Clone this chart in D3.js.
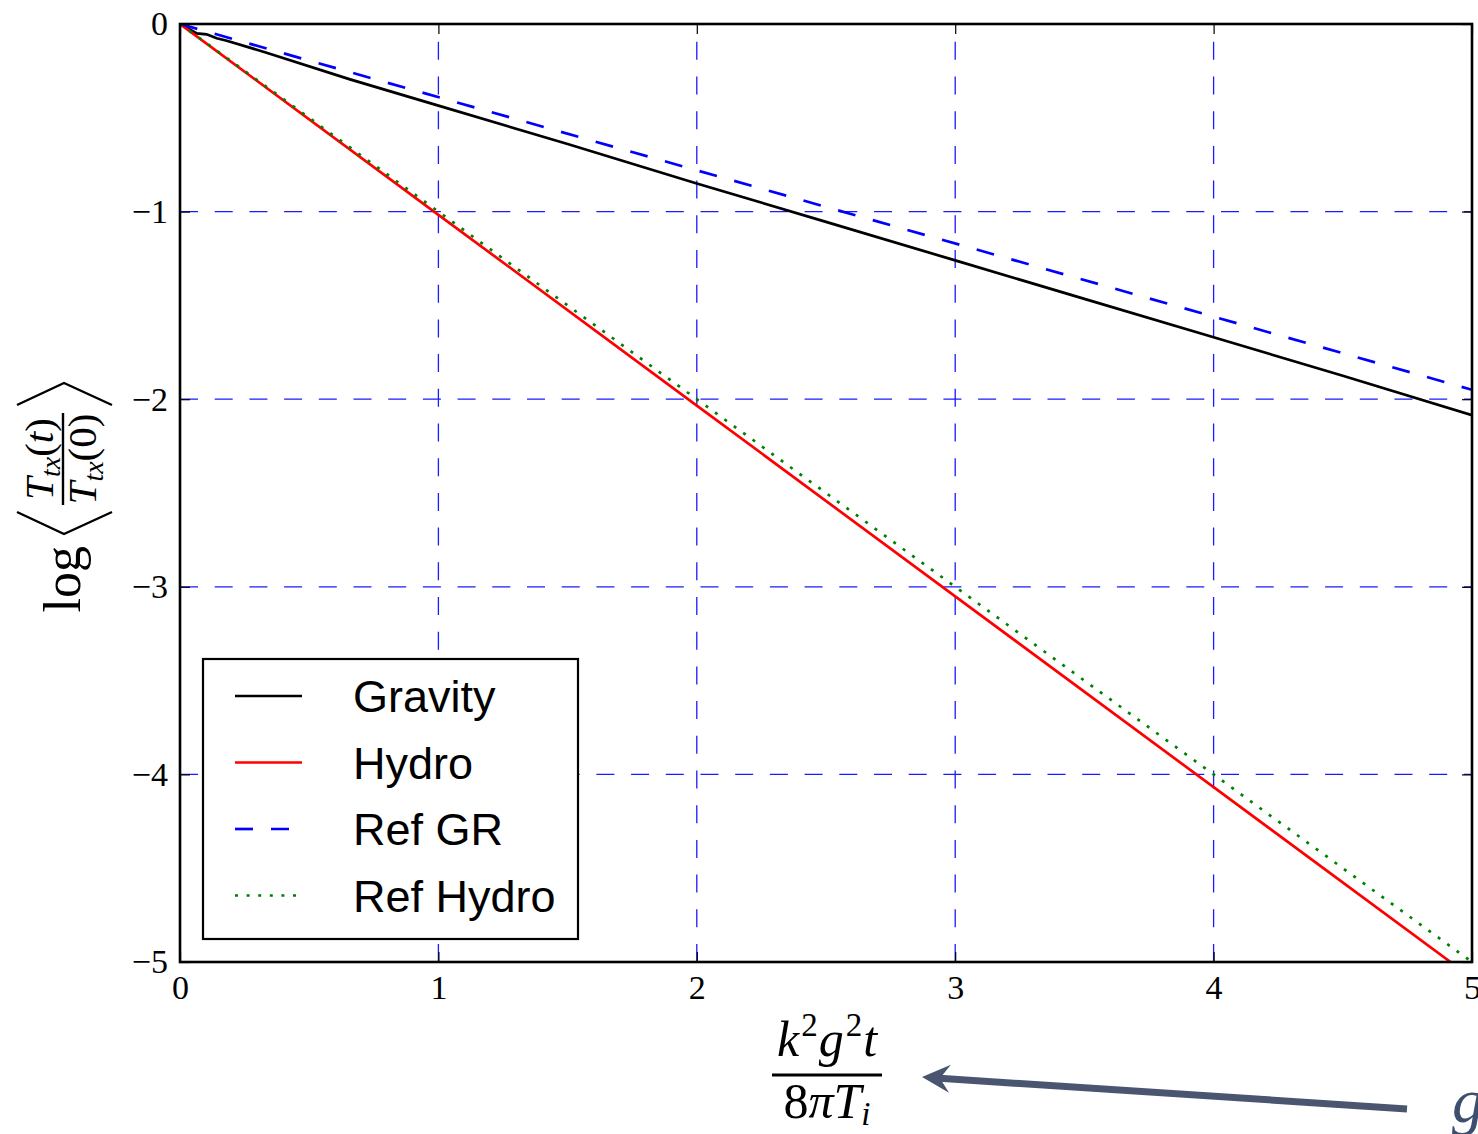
<!DOCTYPE html>
<html>
<head>
<meta charset="utf-8">
<script src="https://cdn.jsdelivr.net/npm/d3@7"></script>
<style>
  body { margin: 0; background: #fff; }
  svg { display: block; }
</style>
</head>
<body>
<div id="chart"></div>
<script>
// Chart size
var svgWidth = 1478;
var svgHeight = 1134;

// Plot area edges (pixels)
var plotLeft = 180, plotRight = 1472, plotTop = 24, plotBottom = 962;

// Axis ticks
var xTicks = [0, 1, 2, 3, 4, 5];
var yTicks = [0, -1, -2, -3, -4, -5];
var xGrid = [1, 2, 3, 4];
var yGrid = [-1, -2, -3, -4];

// Series
var gravityX = [0, 0.065, 0.103, 0.142, 0.181, 0.335, 0.658, 1, 1.5, 2, 2.5, 3, 3.5, 4, 4.5, 5];
var gravityY = [0, -0.05, -0.055, -0.076, -0.089, -0.153, -0.295, -0.435, -0.64, -0.85, -1.055, -1.26, -1.465, -1.67, -1.875, -2.085];
var hydroX = [0, 1, 2, 3, 4, 4.917];
var hydroY = [0, -1.017, -2.034, -3.051, -4.068, -5];
var refGRX = [0, 5];
var refGRY = [0, -1.95];
var refHydroX = [0, 5];
var refHydroY = [0, -5];

var legendNames = ["Gravity", "Hydro", "Ref GR", "Ref Hydro"];

var series = [
  {xs: gravityX, ys: gravityY, color: "#000000", dash: null},
  {xs: hydroX, ys: hydroY, color: "#ff0000", dash: null},
  {xs: refGRX, ys: refGRY, color: "#0000ff", dash: "18,18"},
  {xs: refHydroX, ys: refHydroY, color: "#008000", dash: "3,8.6"}
];

var svg = d3.select("#chart")
            .append("svg")
            .attr("width", svgWidth)
            .attr("height", svgHeight);

var xScale = d3.scaleLinear().domain([0, 5]).range([plotLeft, plotRight]);
var yScale = d3.scaleLinear().domain([-5, 0]).range([plotBottom, plotTop]);

svg.append("clipPath").attr("id", "plotClip")
   .append("rect")
   .attr("x", plotLeft).attr("y", plotTop)
   .attr("width", plotRight - plotLeft).attr("height", plotBottom - plotTop);

// Grid lines (dashed blue)
var gridGroup = svg.append("g");
gridGroup.selectAll(".vgrid")
         .data(xGrid)
         .enter()
         .append("line")
         .attr("x1", d => xScale(d)).attr("x2", d => xScale(d))
         .attr("y1", yScale(-5)).attr("y2", yScale(0))
         .attr("stroke", "#1a1aff")
         .attr("stroke-width", 1.3)
         .attr("stroke-dasharray", "18,16.7");
gridGroup.selectAll(".hgrid")
         .data(yGrid)
         .enter()
         .append("line")
         .attr("x1", xScale(0)).attr("x2", xScale(5))
         .attr("y1", d => yScale(d)).attr("y2", d => yScale(d))
         .attr("stroke", "#1a1aff")
         .attr("stroke-width", 1.3)
         .attr("stroke-dasharray", "18,16.7");

// Axes with inward ticks
var fmt = d3.format("d");
var bottomAxis = d3.axisBottom(xScale).tickValues(xTicks).tickFormat(fmt)
                   .tickSizeInner(-10).tickSizeOuter(0).tickPadding(13);
var leftAxis = d3.axisLeft(yScale).tickValues(yTicks).tickFormat(fmt)
                 .tickSizeInner(-10).tickSizeOuter(0).tickPadding(12);
var topAxis = d3.axisTop(xScale).tickValues(xTicks).tickFormat("")
                .tickSizeInner(-10).tickSizeOuter(0);
var rightAxis = d3.axisRight(yScale).tickValues(yTicks).tickFormat("")
                  .tickSizeInner(-10).tickSizeOuter(0);

svg.append("g").attr("transform", `translate(0, ${plotBottom})`).call(bottomAxis);
svg.append("g").attr("transform", `translate(${plotLeft}, 0)`).call(leftAxis);
svg.append("g").attr("transform", `translate(0, ${plotTop})`).call(topAxis);
svg.append("g").attr("transform", `translate(${plotRight}, 0)`).call(rightAxis);
svg.selectAll(".domain").remove();
svg.selectAll(".tick line").attr("stroke", "#000").attr("stroke-width", 1.2);
svg.selectAll(".tick text")
   .attr("font-family", "Liberation Serif")
   .attr("font-size", 34)
   .attr("fill", "#000");

// Lines
var line = d3.line().x(d => xScale(d[0])).y(d => yScale(d[1]));
var linesGroup = svg.append("g").attr("clip-path", "url(#plotClip)");
linesGroup.selectAll("path")
          .data(series)
          .enter()
          .append("path")
          .attr("d", d => line(d.xs.map((x, i) => [x, d.ys[i]])))
          .attr("fill", "none")
          .attr("stroke", d => d.color)
          .attr("stroke-width", 2.7)
          .attr("stroke-dasharray", d => d.dash);

// Plot frame
svg.append("rect")
   .attr("x", plotLeft).attr("y", plotTop)
   .attr("width", plotRight - plotLeft).attr("height", plotBottom - plotTop)
   .attr("fill", "none")
   .attr("stroke", "#000")
   .attr("stroke-width", 2.6);

// Legend
var legend = svg.append("g").attr("transform", "translate(203, 659)");
legend.append("rect")
      .attr("width", 375).attr("height", 280)
      .attr("fill", "#fff").attr("stroke", "#000").attr("stroke-width", 2.2);
var legendRows = legend.selectAll(".row")
                       .data(series)
                       .enter()
                       .append("g")
                       .attr("transform", (d, i) => `translate(0, ${37 + i * 66.5})`);
legendRows.append("line")
          .attr("x1", 32).attr("x2", 99)
          .attr("y1", 0).attr("y2", 0)
          .attr("stroke", d => d.color)
          .attr("stroke-width", 2.7)
          .attr("stroke-dasharray", d => d.dash);
legendRows.append("text")
          .attr("x", 150).attr("y", 16)
          .attr("font-family", "Liberation Sans, Arial, sans-serif")
          .attr("font-size", 45)
          .text((d, i) => legendNames[i]);

// X axis label: k^2 g^2 t / (8 pi T_i)
var xLab = svg.append("g")
              .attr("font-family", "Liberation Serif, serif")
              .attr("font-size", 50)
              .attr("font-style", "italic");
var num = xLab.append("text").attr("x", 827).attr("y", 1056).attr("text-anchor", "middle");
num.append("tspan").text("k");
num.append("tspan").attr("font-size", 33).attr("font-style", "normal").attr("dx", 2).attr("dy", -20).text("2");
num.append("tspan").attr("dx", 1).attr("dy", 20).text("g");
num.append("tspan").attr("font-size", 33).attr("font-style", "normal").attr("dx", 2).attr("dy", -20).text("2");
num.append("tspan").attr("dx", 1).attr("dy", 20).text("t");
xLab.append("line")
    .attr("x1", 772).attr("x2", 882).attr("y1", 1075).attr("y2", 1075)
    .attr("stroke", "#000").attr("stroke-width", 3);
var den = xLab.append("text").attr("x", 827).attr("y", 1118).attr("text-anchor", "middle");
den.append("tspan").attr("font-style", "normal").text("8");
den.append("tspan").text("\u03C0T");
den.append("tspan").attr("font-size", 33).attr("dy", 7).text("i");

// Y axis label: log < T_tx(t) / T_tx(0) >
var yLab = svg.append("g")
              .attr("transform", "translate(65, 490) rotate(-90)")
              .attr("font-family", "Liberation Serif, serif");
yLab.append("text")
    .attr("x", -56).attr("y", 15)
    .attr("text-anchor", "end")
    .attr("font-size", 52)
    .text("log");
var bracket = d3.line();
yLab.append("path")
    .attr("d", bracket([[-22, -48], [-44, -1], [-22, 47]]))
    .attr("fill", "none").attr("stroke", "#000").attr("stroke-width", 2.4);
yLab.append("path")
    .attr("d", bracket([[85, -48], [107, -1], [85, 47]]))
    .attr("fill", "none").attr("stroke", "#000").attr("stroke-width", 2.4);
yLab.append("line")
    .attr("x1", -15).attr("x2", 77).attr("y1", -2).attr("y2", -2)
    .attr("stroke", "#000").attr("stroke-width", 2.4);
function fracPart(y, inner) {
  var t = yLab.append("text").attr("x", 31).attr("y", y)
              .attr("text-anchor", "middle").attr("font-size", 41);
  t.append("tspan").attr("font-style", "italic").text("T");
  t.append("tspan").attr("font-style", "italic").attr("font-size", 28).attr("dy", 7).text("tx");
  t.append("tspan").attr("dy", -7).text("(");
  t.append("tspan").attr("font-style", inner === "t" ? "italic" : "normal").text(inner);
  t.append("tspan").text(")");
}
fracPart(-12, "t");
fracPart(31, "0");

// Annotation arrow in the lower right
var arrowTip = [922, 1077];
var arrowTail = [1407, 1109];
var arrowColor = "#4a5670";
svg.append("line")
   .attr("x1", arrowTail[0]).attr("y1", arrowTail[1])
   .attr("x2", arrowTip[0] + 14).attr("y2", arrowTip[1] + 1)
   .attr("stroke", arrowColor).attr("stroke-width", 7);
var dx = arrowTail[0] - arrowTip[0], dy = arrowTail[1] - arrowTip[1];
var len = Math.sqrt(dx * dx + dy * dy);
var ux = dx / len, uy = dy / len, px = -uy, py = ux;
var head = [
  arrowTip,
  [arrowTip[0] + ux * 28 + px * 14, arrowTip[1] + uy * 28 + py * 14],
  [arrowTip[0] + ux * 18, arrowTip[1] + uy * 18],
  [arrowTip[0] + ux * 28 - px * 14, arrowTip[1] + uy * 28 - py * 14]
];
svg.append("path")
   .attr("d", d3.line()(head) + "Z")
   .attr("fill", arrowColor);
// partly visible annotation letter at the right edge (cut off in the reference too)
svg.append("text")
   .attr("x", 1452).attr("y", 1122)
   .attr("font-family", "Liberation Serif, serif")
   .attr("font-style", "italic")
   .attr("font-size", 64)
   .attr("fill", "#3d4f6e")
   .text("g");
</script>
</body>
</html>
